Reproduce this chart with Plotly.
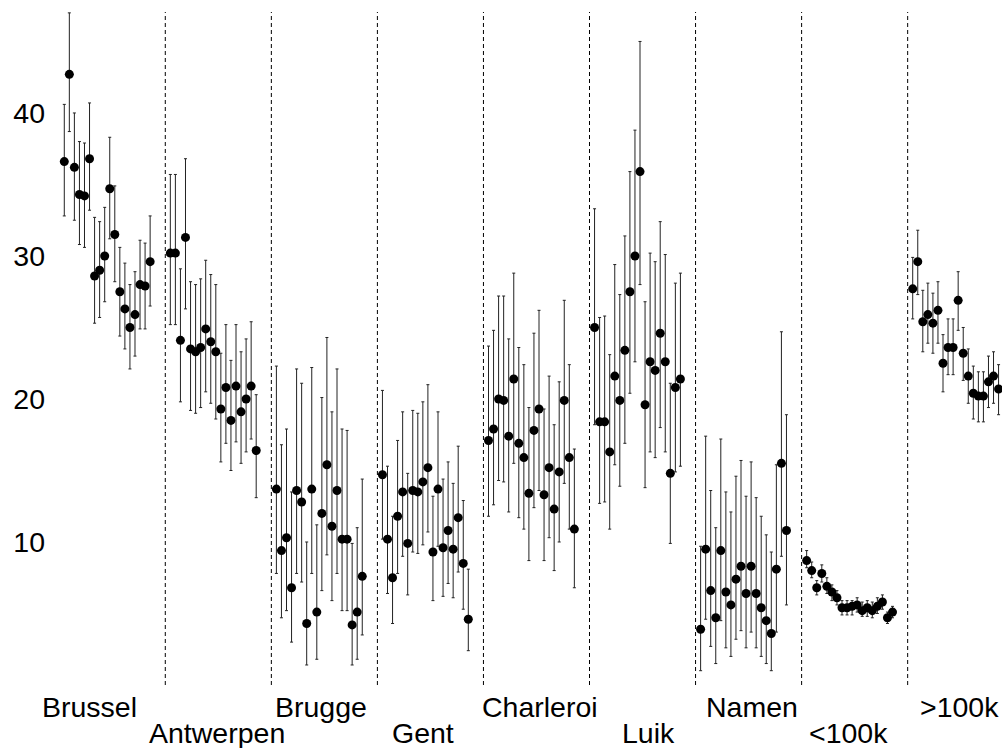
import numpy as np
import plotly.graph_objects as go

groups = ["Brussel", "Antwerpen", "Brugge", "Gent", "Charleroi", "Luik", "Namen", "<100k", ">100k"]

brussel_val = [36.6, 42.7, 36.2, 34.3, 34.2, 36.8, 28.6, 29.0, 30.0, 34.7, 31.5, 27.5, 26.3, 25.0, 25.9, 28.0, 27.9, 29.6]
brussel_hi = [40.6, 47.0, 40.0, 38.0, 37.9, 40.7, 32.7, 32.4, 33.4, 38.3, 34.9, 30.6, 29.5, 28.0, 28.9, 31.1, 30.9, 32.8]
brussel_lo = [32.8, 38.7, 32.5, 30.8, 30.6, 33.2, 25.3, 25.7, 26.8, 31.2, 28.2, 24.4, 23.5, 22.1, 23.0, 24.9, 24.9, 26.5]

antwerpen_val = [30.2, 30.2, 24.1, 31.3, 23.5, 23.3, 23.6, 24.9, 24.0, 23.3, 19.3, 20.8, 18.5, 20.9, 19.1, 20.0, 20.9, 16.4]
antwerpen_hi = [35.7, 35.7, 29.1, 36.8, 28.2, 28.0, 28.4, 29.7, 28.7, 28.0, 23.2, 25.2, 22.7, 25.2, 23.3, 24.2, 25.4, 20.3]
antwerpen_lo = [25.2, 25.2, 19.8, 26.3, 19.2, 19.0, 19.4, 20.5, 19.7, 18.6, 15.6, 16.9, 15.0, 17.0, 15.5, 16.3, 17.2, 13.1]

brugge_val = [13.7, 9.4, 10.3, 6.8, 13.6, 12.8, 4.3, 13.7, 5.1, 12.0, 15.4, 11.1, 13.6, 10.2, 10.2, 4.2, 5.1, 7.6]
brugge_hi = [22.3, 16.8, 17.9, 13.5, 22.1, 21.1, 10.0, 22.2, 11.2, 20.1, 24.3, 19.1, 22.1, 17.9, 17.8, 9.9, 11.0, 14.4]
brugge_lo = [7.8, 4.7, 5.2, 3.0, 7.8, 7.2, 1.4, 7.8, 1.8, 6.6, 9.1, 5.9, 7.8, 5.2, 5.2, 1.4, 1.8, 3.5]

gent_val = [14.7, 10.2, 7.5, 11.8, 13.5, 9.9, 13.6, 13.5, 14.2, 15.2, 9.3, 13.7, 9.6, 10.8, 9.5, 11.7, 8.5, 4.6]
gent_hi = [20.6, 15.3, 11.8, 17.1, 19.1, 14.8, 19.2, 19.0, 19.8, 21.0, 13.2, 19.1, 14.4, 15.6, 14.1, 16.7, 12.9, 8.1]
gent_lo = [10.2, 6.4, 4.3, 7.8, 9.0, 6.3, 9.3, 9.2, 9.8, 10.7, 5.9, 9.7, 6.2, 7.1, 6.1, 7.9, 5.3, 2.4]

charleroi_val = [17.1, 17.9, 20.0, 19.9, 17.4, 21.4, 16.9, 15.9, 13.4, 17.8, 19.3, 13.3, 15.2, 12.3, 14.9, 19.9, 15.9, 10.9]
charleroi_hi = [23.7, 24.8, 27.2, 27.2, 24.2, 28.8, 23.6, 22.4, 19.4, 24.6, 26.2, 19.3, 21.6, 18.2, 21.2, 26.9, 22.4, 16.5]
charleroi_lo = [11.8, 12.6, 14.3, 14.2, 12.1, 15.5, 11.7, 10.9, 8.7, 12.4, 13.6, 8.7, 10.3, 8.0, 10.0, 14.1, 10.9, 6.8]

luik_val = [25.0, 18.4, 18.4, 16.3, 21.6, 19.9, 23.4, 27.5, 30.0, 35.9, 19.6, 22.6, 22.0, 24.6, 22.6, 14.8, 20.8, 21.4]
luik_hi = [33.3, 25.7, 25.8, 23.1, 29.4, 27.3, 31.4, 35.9, 38.8, 45.0, 26.8, 30.2, 29.6, 32.4, 30.1, 21.1, 28.1, 28.8]
luik_lo = [18.2, 12.7, 12.8, 10.9, 15.4, 13.9, 16.9, 20.4, 22.6, 28.0, 13.8, 16.3, 15.9, 18.0, 16.3, 9.9, 14.9, 15.3]

namen_val = [3.9, 9.5, 6.6, 4.7, 9.4, 6.5, 5.6, 7.4, 8.3, 6.4, 8.3, 6.4, 5.4, 4.5, 3.6, 8.1, 15.5, 10.8]
namen_hi = [9.7, 17.4, 13.6, 11.0, 17.2, 13.5, 12.1, 14.6, 15.7, 13.2, 15.6, 13.1, 11.8, 10.5, 9.3, 15.4, 24.7, 18.9]
namen_lo = [1.0, 4.6, 2.7, 1.5, 4.5, 2.6, 2.0, 3.2, 3.8, 2.6, 3.7, 2.6, 2.0, 1.5, 1.0, 3.7, 9.0, 5.6]

small_val = [8.7, 8.0, 6.8, 7.8, 6.9, 6.5, 6.1, 5.4, 5.4, 5.5, 5.6, 5.2, 5.4, 5.2, 5.5, 5.8, 4.7, 5.1]
small_hi = [9.4, 8.6, 7.3, 8.4, 7.5, 7.0, 6.6, 5.9, 5.9, 5.9, 6.1, 5.8, 5.9, 5.8, 6.1, 6.3, 5.1, 5.5]
small_lo = [8.2, 7.5, 6.3, 7.2, 6.4, 5.9, 5.6, 4.9, 4.9, 4.9, 5.1, 4.8, 4.8, 4.7, 5.0, 5.3, 4.3, 4.7]

large_val = [27.7, 29.6, 25.4, 25.9, 25.3, 26.2, 22.5, 23.6, 23.6, 26.9, 23.2, 21.6, 20.4, 20.2, 20.2, 21.2, 21.6, 20.7]
large_hi = [29.9, 31.8, 27.6, 28.1, 27.4, 28.2, 24.5, 25.6, 25.6, 28.9, 25.0, 23.5, 22.3, 21.9, 21.9, 23.0, 23.3, 22.4]
large_lo = [25.6, 27.3, 23.3, 23.9, 23.2, 23.9, 20.5, 21.7, 21.7, 24.8, 21.3, 19.7, 18.6, 18.4, 18.4, 19.4, 19.7, 18.9]

values = [brussel_val, antwerpen_val, brugge_val, gent_val, charleroi_val, luik_val, namen_val, small_val, large_val]
highs = [brussel_hi, antwerpen_hi, brugge_hi, gent_hi, charleroi_hi, luik_hi, namen_hi, small_hi, large_hi]
lows = [brussel_lo, antwerpen_lo, brugge_lo, gent_lo, charleroi_lo, luik_lo, namen_lo, small_lo, large_lo]

y_ticks = [10, 20, 30, 40]

# layout constants
STEP = 21          # slots per group (18 points + gap)
SEP_OFFSET = 20    # separator slot within a group
LABEL_OFFSET = [5, 9.2, 8.8, 8, 10.2, 10.6, 10.2, 8.2, 9.2]
LABEL_ROW_Y = [-0.033, -0.071]   # paper coords for the two label rows
FONT_SIZE = 28.5

fig = go.Figure()
for g, (v, hi, lo) in enumerate(zip(values, highs, lows)):
    v = np.array(v); hi = np.array(hi); lo = np.array(lo)
    x = g * STEP + np.arange(len(v))
    fig.add_trace(go.Scatter(
        x=x, y=v, mode="markers",
        marker=dict(color="black", size=9),
        error_y=dict(type="data", symmetric=False, array=hi - v, arrayminus=v - lo,
                     color="#222222", thickness=1, width=1.5),
        showlegend=False, hoverinfo="skip", cliponaxis=False,
    ))

for g in range(len(groups) - 1):
    xs = g * STEP + SEP_OFFSET
    fig.add_shape(type="line", xref="x", yref="paper", x0=xs, x1=xs, y0=0, y1=1,
                  line=dict(color="black", width=1, dash="4px,3px"))

for g, name in enumerate(groups):
    fig.add_annotation(x=g * STEP + LABEL_OFFSET[g], y=LABEL_ROW_Y[g % 2],
                       xref="x", yref="paper", text=name, showarrow=False,
                       font=dict(size=FONT_SIZE, color="black", family="Liberation Sans, Arial"),
                       xanchor="center", yanchor="middle")

fig.update_layout(
    width=1002, height=748,
    margin=dict(l=50, r=0, t=12, b=63),
    plot_bgcolor="white", paper_bgcolor="white",
    font=dict(family="Liberation Sans, Arial", size=FONT_SIZE, color="black"),
    xaxis=dict(range=[-2.83, 185.68], showgrid=False, zeroline=False, showticklabels=False,
               showline=False, ticks=""),
    yaxis=dict(range=[0, 47.06], tickvals=y_ticks, showgrid=False, zeroline=False,
               showline=False, ticks="", ticklabelstandoff=4),
)

fig.write_html("out.html")
